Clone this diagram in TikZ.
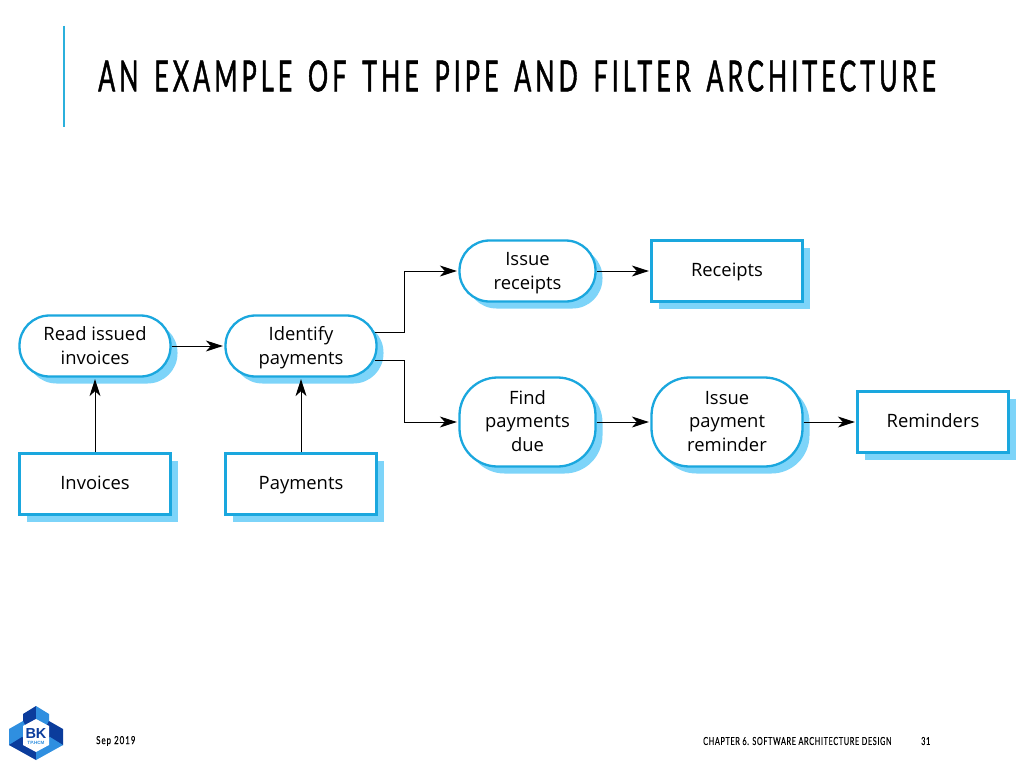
\documentclass[tikz,border=0pt]{standalone}
\usepackage{fontspec}
\usetikzlibrary{arrows.meta,shadows,calc}
\setmainfont{Open Sans}
\newfontfamily\titlefont[FakeStretch=0.585,LetterSpace=9.4,FakeBold=1,WordSpace=1.5]{Lato}
\newfontfamily\footfont[FakeStretch=0.66,LetterSpace=6,FakeBold=0.2]{Lato}
\newfontfamily\datefont[FakeStretch=0.72,LetterSpace=9,FakeBold=0.2]{Lato}
\newfontfamily\logofont{Liberation Sans}
\definecolor{accent}{HTML}{2BB0DC}
\definecolor{edgeblue}{HTML}{1AA7DE}
\definecolor{shade}{HTML}{7DD4F9}
\definecolor{logodark}{HTML}{0B3C9C}
\definecolor{logolight}{HTML}{2F8FE0}
\tikzset{
  x=1pt,y=-1pt,
  boxbase/.style={draw=edgeblue,line width=2.3pt,fill=white,inner sep=0pt,align=center,
    font=\fontsize{18.4}{23.6}\selectfont,text=black,
    execute at end node={\strut},
    general shadow={shadow xshift=7pt,shadow yshift=-7pt,fill=shade}},
  store/.style={boxbase,rectangle,minimum width=151pt,minimum height=61pt,
    execute at begin node={\rule{0pt}{18pt}}},
  filterbox/.style={boxbase,rectangle,rounded corners=30pt,minimum width=151pt,minimum height=61pt,
    execute at begin node={\rule{0pt}{44pt}}},
  threeline/.style={filterbox,rounded corners=38pt,minimum height=89pt,
    execute at begin node={\rule{0pt}{66pt}}},
  pipe/.style={draw=black,line width=1pt,-{Stealth[length=17pt,width=11pt,inset=5pt]},shorten >=1.5pt},
}
\begin{document}
\begin{tikzpicture}
\useasboundingbox (0,0) rectangle (1024,768);
\fill[white] (0,0) rectangle (1024,768);
\draw[accent,line width=2.2pt] (64,26) -- (64,127);
\node[anchor=west,inner sep=0pt,font=\titlefont\fontsize{43}{50}\selectfont] (title) at (98,76) {AN EXAMPLE OF THE PIPE AND FILTER ARCHITECTURE};

\node[filterbox] (read) at (95,346) {Read issued\\invoices};
\node[filterbox] (identify) at (301,346) {Identify\\payments};
\node[store] (invoices) at (95,484) {Invoices};
\node[store] (payments) at (301,484) {Payments};
\node[filterbox,minimum width=136pt] (issue) at (527.5,271) {Issue\\receipts};
\node[store] (receipts) at (727,271) {Receipts};
\node[threeline,minimum width=136pt] (find) at (527.5,422) {Find\\payments\\due};
\node[threeline] (remind) at (727,422) {Issue\\payment\\reminder};
\node[store] (reminders) at (933,422) {Reminders};

\draw[pipe] (read) -- (identify);
\draw[pipe] (invoices) -- (read);
\draw[pipe] (payments) -- (identify);
\draw[pipe] ([xshift=-3pt,yshift=14pt]identify.east) -- ++(30,0) |- (issue.west);
\draw[pipe] ([xshift=-3pt,yshift=-14pt]identify.east) -- ++(30,0) |- (find.west);
\draw[pipe] (issue) -- (receipts);
\draw[pipe] (find) -- (remind);
\draw[pipe] (remind) -- (reminders);

% logo
\fill[logodark] (36,706) -- (36,722) -- (23,729) -- (23,714) -- cycle;
\fill[logolight] (36,706) -- (49,714) -- (49,729) -- (36,722) -- cycle;
\fill[logolight] (9,729) -- (23,721) -- (36,745) -- (9,745) -- cycle;
\fill[logodark] (9,745) -- (22,737) -- (36,745) -- (36,760) -- cycle;
\fill[logodark] (63,729) -- (49,721) -- (36,745) -- (63,745) -- cycle;
\fill[logolight] (63,745) -- (50,737) -- (36,745) -- (36,760) -- cycle;
\fill[white] (36,719) -- (49,726) -- (49,745) -- (36,752) -- (23,745) -- (23,726) -- cycle;
\node[inner sep=0pt,text=logodark,font=\logofont\fontsize{14.5}{15}\selectfont\bfseries] (bk) at (36,733.5) {BK};
\node[inner sep=0pt,text=logolight,font=\logofont\fontsize{4.6}{5}\selectfont\bfseries] (tp) at (36,743) {TP.HCM};

\node[anchor=west,inner sep=0pt,font=\datefont\fontsize{11}{13}\selectfont] (date) at (96,741) {Sep 2019};
\node[anchor=west,inner sep=0pt,font=\footfont\fontsize{11}{13}\selectfont] (chap) at (703,741) {CHAPTER 6. SOFTWARE ARCHITECTURE DESIGN};
\node[anchor=west,inner sep=0pt,font=\footfont\fontsize{11}{13}\selectfont] (num) at (921,741) {31};
\end{tikzpicture}
\end{document}
